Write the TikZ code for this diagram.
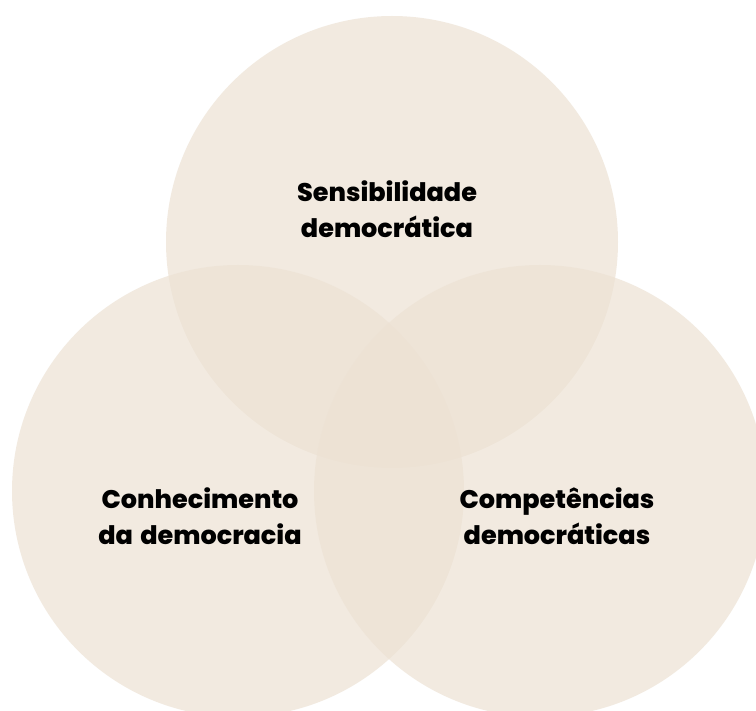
\documentclass[tikz,border=0pt]{standalone}
\usepackage{fontspec}
\newfontfamily\vennfont[WordSpace=1.5]{Poppins ExtraBold}
\definecolor{venn}{RGB}{237,226,212}
\begin{document}
\begin{tikzpicture}[x=1pt,y=-1pt,
  vcircle/.style={fill=venn,fill opacity=0.7,draw=none},
  vlabel/.style={font=\vennfont\fontsize{25.5}{36}\selectfont,align=center,text=black}]
\useasboundingbox[fill=white] (0,0) rectangle (756,711);
\begin{scope}
\clip (0,0) rectangle (756,711);
\fill[vcircle] (392,242) circle[radius=226];
\fill[vcircle] (238,491) circle[radius=226];
\fill[vcircle] (540,491) circle[radius=226];
\end{scope}
\node[vlabel] (sens) at (387,209) {Sensibilidade\\democrática};
\node[vlabel] (conh) at (200,516) {Conhecimento\\da democracia};
\node[vlabel] (comp) at (557,516) {Competências\\democráticas};
\end{tikzpicture}
\end{document}
